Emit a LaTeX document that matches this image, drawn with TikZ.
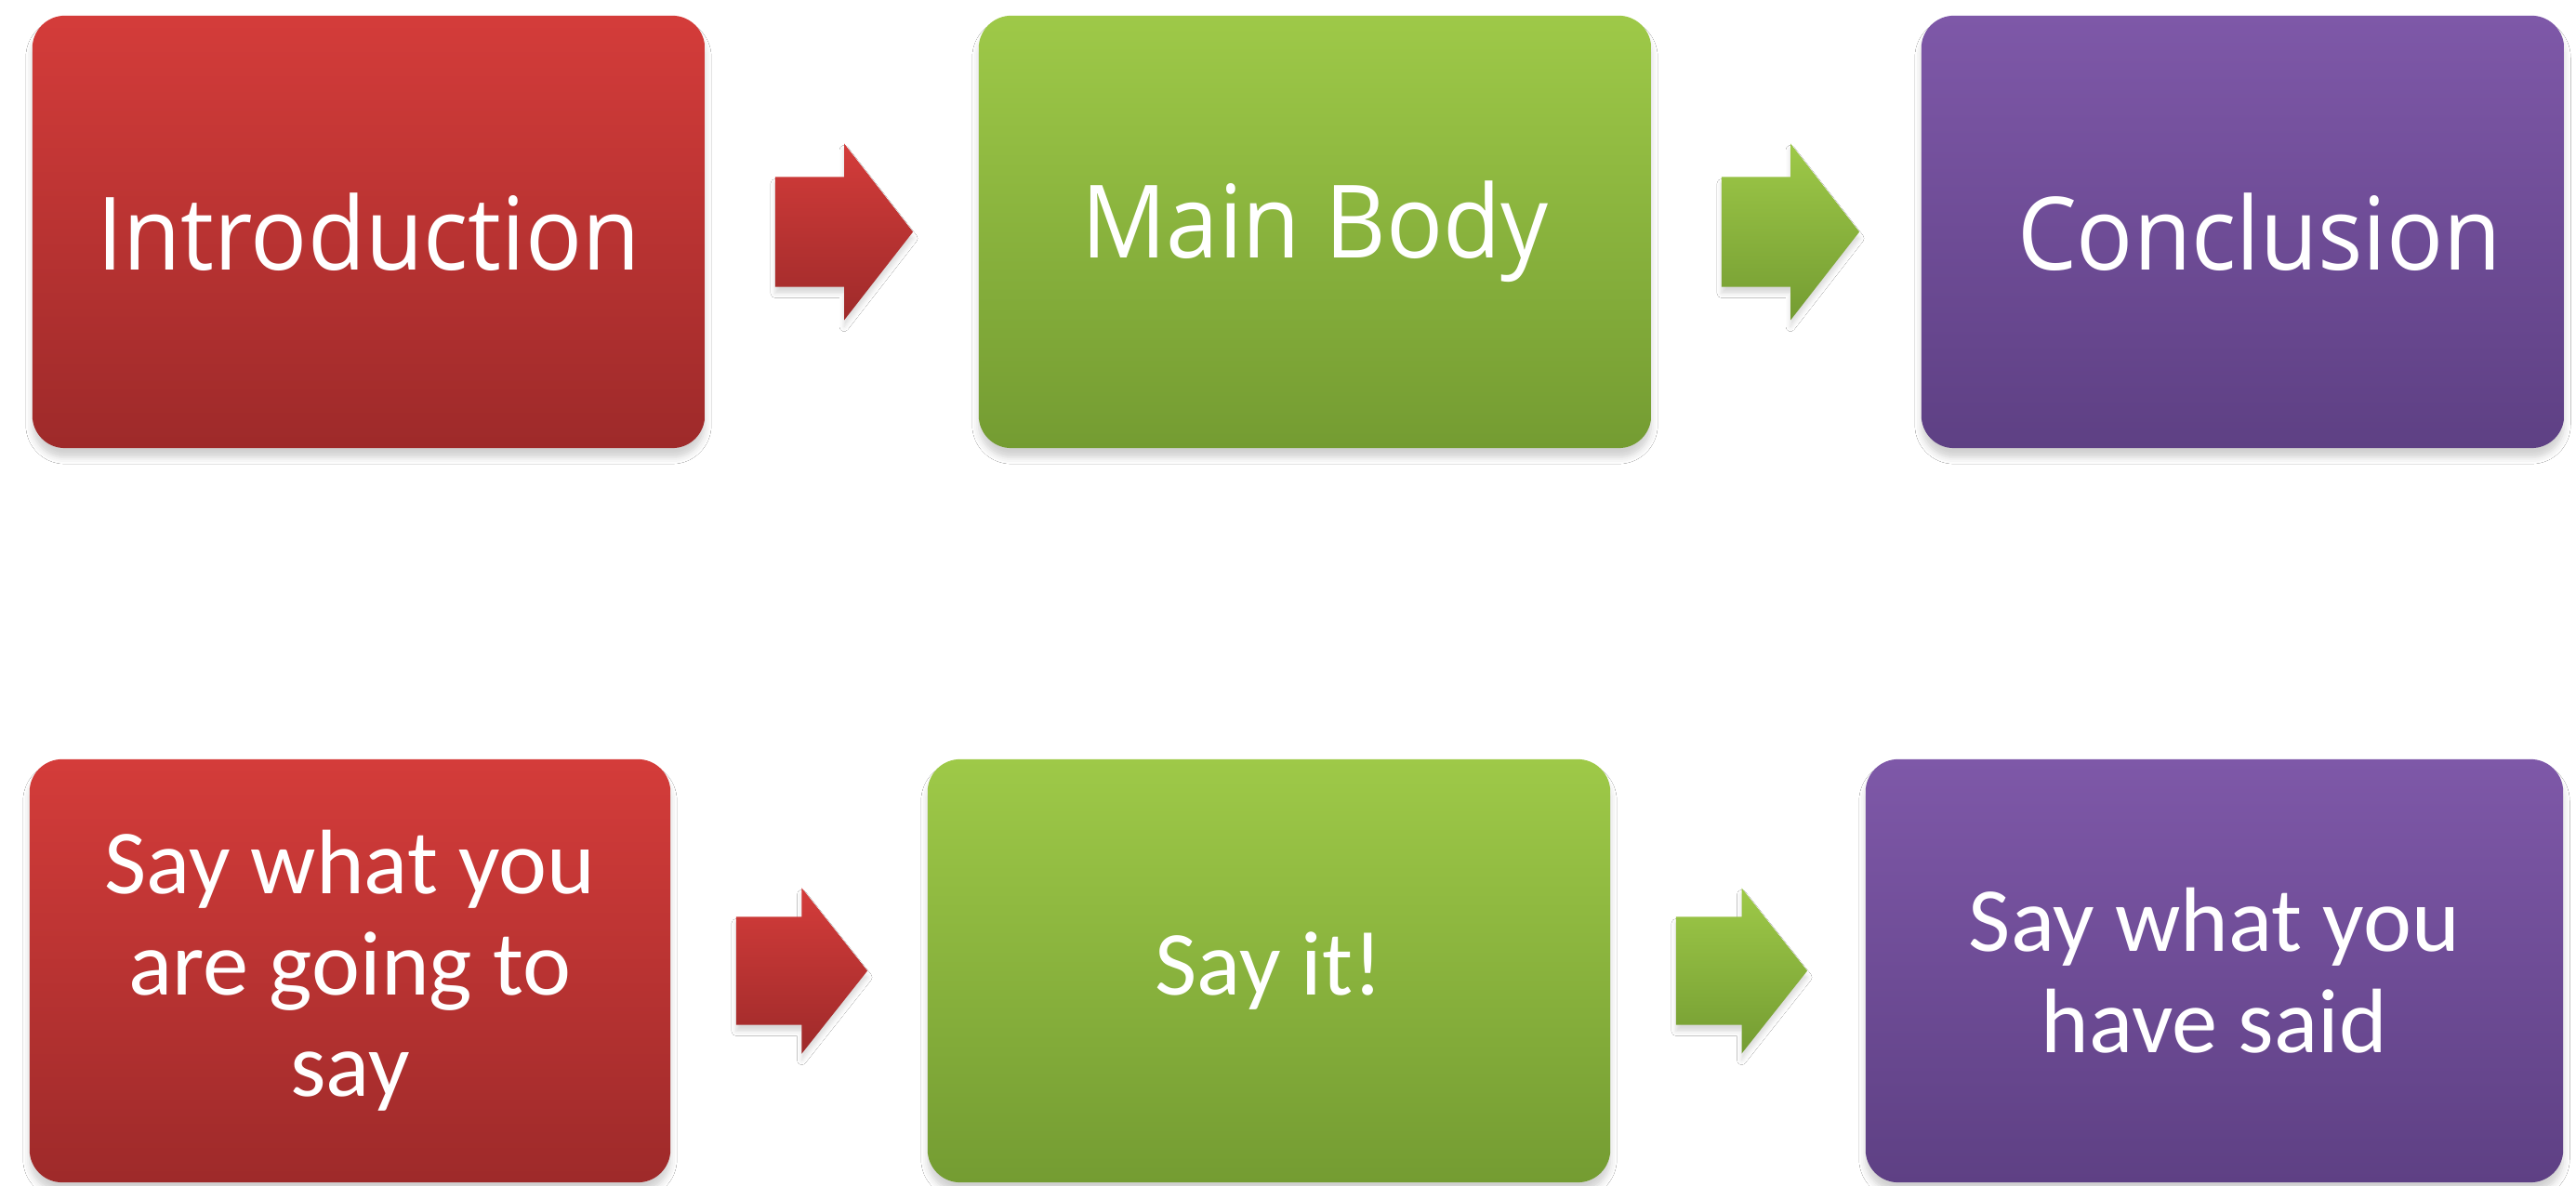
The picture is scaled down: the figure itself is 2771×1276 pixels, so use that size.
\documentclass[tikz,border=0pt]{standalone}
\usepackage{fontspec}
\setmainfont{Carlito}
\newfontfamily\topfont{Open Sans}
\usetikzlibrary{calc,shadows.blur}
\definecolor{redT}{RGB}{212,60,58}
\definecolor{redB}{RGB}{158,42,42}
\definecolor{grnT}{RGB}{158,201,72}
\definecolor{grnB}{RGB}{116,156,50}
\definecolor{purT}{RGB}{126,88,168}
\definecolor{purB}{RGB}{94,64,132}
\tikzset{
  box/.style={rounded corners=0.35cm, inner sep=0pt, text=white, align=center,
    blur shadow={shadow xshift=0pt, shadow yshift=-0.1cm, shadow blur radius=0.07cm, shadow opacity=18}},
  redbox/.style={box, top color=redT, bottom color=redB},
  grnbox/.style={box, top color=grnT, bottom color=grnB},
  purbox/.style={box, top color=purT, bottom color=purB},
  arr/.style={blur shadow={shadow xshift=0pt, shadow yshift=-0.07cm, shadow blur radius=0.05cm, shadow opacity=15}},
  redarrow/.style={arr, top color=redT, bottom color=redB},
  grnarrow/.style={arr, top color=grnT, bottom color=grnB},
  toplabel/.style={font=\topfont\fontsize{31}{36}\selectfont},
  botlabel/.style={font=\fontsize{28}{31}\selectfont},
}
% #1 style, #2 from node, #3 to node, #4 gap after from, #5 gap before to, #6 shaft half, #7 head half
\newcommand\blockarrow[7]{%
  \path[#1] let \p1=($(#2.east)+(#4,0)$), \p2=($(#3.west)-(#5,0)$), \p3=($(\p1)!.5!(\p2)$) in
    (\x1,\y1+#6) -- (\x3,\y1+#6) -- (\x3,\y1+#7) -- (\x2,\y1) -- (\x3,\y1-#7) -- (\x3,\y1-#6) -- (\x1,\y1-#6) -- cycle;}
\begin{document}
\begin{tikzpicture}[x=0.01cm,y=0.01cm]
\useasboundingbox[fill=white] (0,0) rectangle (2771,1276);
% top row
\node[redbox, toplabel, minimum width=7.23cm, minimum height=4.65cm] (intro) at (396.5,1026.5) {\scalebox{0.93}[1]{Introduction}};
\node[grnbox, toplabel, minimum width=7.23cm, minimum height=4.65cm] (body) at (1414.5,1026.5) {\scalebox{0.93}[1]{Main Body}};
\node[purbox, toplabel, minimum width=6.91cm, minimum height=4.65cm] (concl) at (2412.5,1026.5) {\hspace{0.36cm}\scalebox{0.93}[1]{Conclusion}};
% bottom row
\node[redbox, botlabel, minimum width=6.89cm, minimum height=4.55cm] (say1) at (376.5,231.5) {Say what you\\are going to\\say};
\node[grnbox, botlabel, minimum width=7.34cm, minimum height=4.55cm] (say2) at (1365,231.5) {Say it!};
\node[purbox, botlabel, minimum width=7.50cm, minimum height=4.55cm] (say3) at (2382,231.5) {Say what you\\have said};
% arrows
\blockarrow{redarrow}{intro}{body}{75}{70}{0.59cm}{0.95cm}
\blockarrow{grnarrow}{body}{concl}{75}{66}{0.59cm}{0.95cm}
\blockarrow{redarrow}{say1}{say2}{70}{64}{0.58cm}{0.89cm}
\blockarrow{grnarrow}{say2}{say3}{70}{62}{0.58cm}{0.89cm}
\end{tikzpicture}
\end{document}
